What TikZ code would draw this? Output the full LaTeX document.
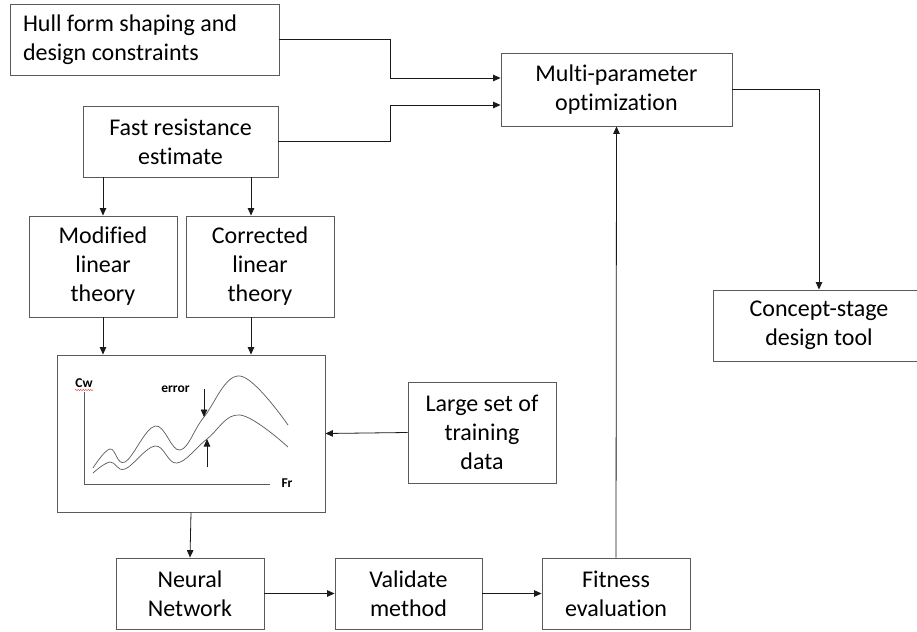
\documentclass[tikz,border=0pt]{standalone}
\usepackage{fontspec}
\setmainfont{Carlito}[Ligatures={NoCommon,NoRare}]
\usetikzlibrary{arrows.meta,positioning,decorations.pathmorphing}
\definecolor{edge}{HTML}{5A5A5A}
\definecolor{ink}{HTML}{1A1A1A}
\definecolor{spell}{HTML}{E03030}

\begin{document}
\begin{tikzpicture}[x=1pt,y=-1pt,
    font=\fontsize{24}{29}\selectfont,
    blk/.style={rectangle,draw=edge,line width=0.9pt,align=center,inner sep=2pt,fill=white},
    flow/.style={-{Triangle[length=7.5pt,width=6.5pt]},ink,line width=0.8pt},
    wire/.style={ink,line width=0.8pt},
    lbl/.style={font=\fontsize{13.5}{15}\selectfont\bfseries,inner sep=0pt}]
  \useasboundingbox (0,0) rectangle (917,631);

  % top row
  \node[blk,minimum width=269pt,minimum height=71pt,text width=243pt,inner xsep=13pt,align=flush left] (hull) at (144.5,39.5)
        {Hull form shaping and\\design constraints};
  \node[blk,minimum width=231pt,minimum height=73pt] (multi) at (616.5,89.5) {Multi-parameter\\optimization};
  \node[blk,minimum width=195pt,minimum height=71pt] (fast) at (180.5,141.5) {Fast resistance\\estimate};

  % theories
  \node[blk,minimum width=148pt,minimum height=101pt] (modlin) at (103,266.5) {Modified\\linear\\theory};
  \node[blk,minimum width=148pt,minimum height=101pt] (corlin) at (260,266.5) {Corrected\\linear\\theory};

  % chart and data
  \node[blk,minimum width=268pt,minimum height=157pt] (chart) at (191,433.5) {};
  \node[blk,minimum width=148pt,minimum height=101pt] (train) at (482,432.5) {Large set of\\training\\data};
  \node[blk,minimum width=212pt,minimum height=71pt] (concept) at (819,325.5) {Concept-stage\\design tool};

  % bottom row
  \node[blk,minimum width=148pt,minimum height=71pt] (neural) at (190,593.5) {Neural\\Network};
  \node[blk,minimum width=147pt,minimum height=71pt] (valid) at (408.5,593.5) {Validate\\method};
  \node[blk,minimum width=148pt,minimum height=71pt] (fitness) at (616,593.5) {Fitness\\evaluation};

  % plot inside the chart
  \draw[wire,edge] (84,392) -- (84,484) -- (270,484);
  \node[lbl] (cw) at (84,383) {Cw};
  \draw[spell,line width=0.4pt,decorate,
        decoration={snake,amplitude=0.6pt,segment length=2.5pt}] (75,390) -- (93,390);
  \node[lbl] (fr) at (287,483) {Fr};
  \node[lbl] (err) at (175.5,389) {error};
  \draw[wire,edge,line width=0.7pt] plot[smooth,tension=0.65] coordinates
        {(93,468) (110,449) (125,462) (155,426) (180,450) (204,417) (240,376) (288,425)};
  \draw[wire,edge,line width=0.7pt] plot[smooth,tension=0.65] coordinates
        {(93,473) (110,462) (125,469) (155,446) (177,463) (207,439) (240,415) (288,447)};
  \coordinate (eTop) at (204,389);
  \coordinate (eUp) at (204,417);
  \coordinate (eBot) at (207,467);
  \coordinate (eLow) at (207,439);
  \draw[flow] (eTop) -- (eUp);
  \draw[flow] (eBot) -- (eLow);

  % connectors
  \draw[flow] (hull.east) -- ++(111,0) |- ([yshift=11.5pt]multi.west);
  \draw[flow] (fast.east) -- ++(112,0) |- ([yshift=-15.5pt]multi.west);
  \draw[flow] (multi.east) -| (concept.north);
  \draw[flow] (fast.south -| modlin.north) -- (modlin.north);
  \draw[flow] ([xshift=-9pt]fast.south -| corlin.north) -- ([xshift=-9pt]corlin.north);
  \draw[flow] (modlin.south) -- (chart.north -| modlin.south);
  \draw[flow] ([xshift=-9pt]corlin.south) -- ([xshift=-9pt]chart.north -| corlin.south);
  \draw[flow] (train.west) -- (chart.east);
  \draw[flow] (chart.south) -- (neural.north);
  \draw[flow] (neural.east) -- (valid.west);
  \draw[flow] (valid.east) -- (fitness.west);
  \draw[flow] (fitness.north) -- (multi.south);
\end{tikzpicture}
\end{document}
